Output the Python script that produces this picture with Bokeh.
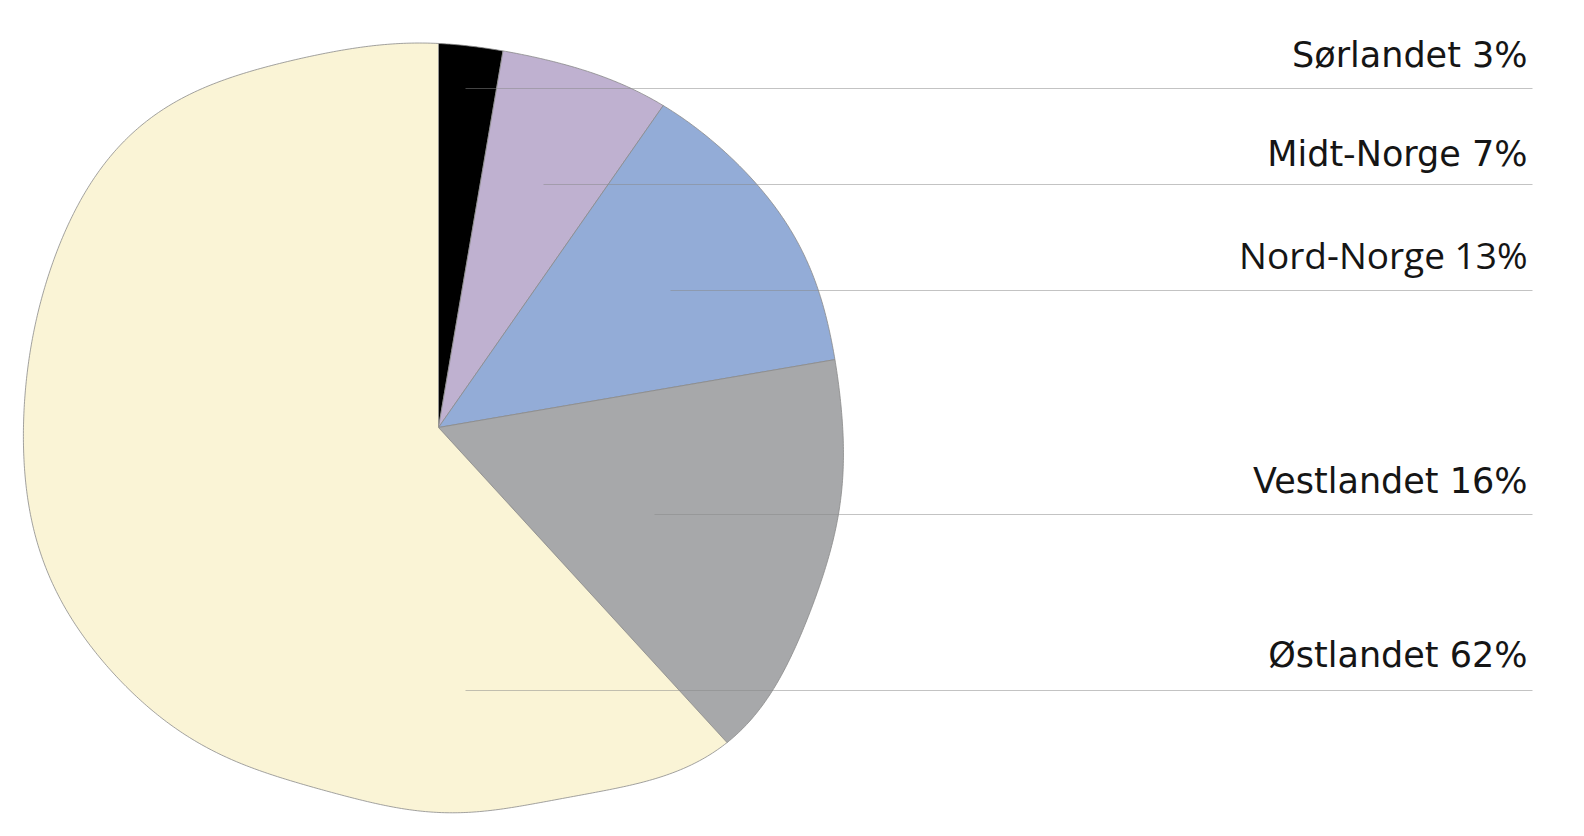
import numpy as np
from bokeh.plotting import figure
from bokeh.models import Range1d, ColumnDataSource
from bokeh.core.properties import value
from bokeh.embed import file_html
from bokeh.resources import INLINE

# ---- data ----
regions = ["Sørlandet", "Midt-Norge", "Nord-Norge", "Vestlandet", "Østlandet"]
shares = [2.7, 7.0, 12.6, 15.9, 61.8]
colors = ["#000000", "#bfb1d0", "#93acd7", "#a7a8aa", "#faf4d6"]

# ---- style: hand-drawn blob outline (angle clockwise from 12 o'clock, radius px) ----
OUTLINE_ANG = [0, 9.8, 20.6, 29.9, 35, 42.8, 52.6, 60.8, 70.1, 80.1, 85.7, 91.4, 98.5,
               107.8, 117.6, 127.8, 137.4, 140.6, 145.8, 150.4, 159.9, 169.7, 179.7,
               185.7, 196, 206.3, 216.8, 222.8, 228.9, 235.4, 243.7, 248.9, 255.7,
               261.7, 268.6, 275.8, 283.5, 292.9, 298, 307.2, 314.2, 317.8, 324.6,
               334.7, 344.4, 354.3]
OUTLINE_R = [384, 382.6, 384.5, 391, 392, 395.5, 401.6, 403.4, 403, 403, 403, 405, 406.5,
             411.8, 416, 424, 428, 424, 418, 409, 392, 387, 386,
             382, 380, 386, 397, 399, 405, 410.5, 413.7, 416, 418,
             417, 415, 414, 416.5, 421, 420, 424.6, 425.7, 424, 411,
             400, 391, 385]
HARMONICS = 10

W, H = 1568, 820
CX, CY = 438, 836 - 427          # pie centre (data units = px from page top)
LEADER_X0 = [465, 543, 670, 654, 465]
LEADER_Y = [836 - v for v in [88, 184, 290, 514, 690]]
LABEL_Y = [836 - v for v in [54, 153, 254, 480, 654]]
LABEL_X = 1527
LEADER_X1 = 1532
LABEL_FONTS = ["DejaVu Sans", "DejaVu Sans", "Open Sans", "DejaVu Sans", "DejaVu Sans"]
LABEL_SIZES = ["35px", "35px", "37px", "35px", "35px"]

# smooth periodic fit of the outline
th = np.radians(OUTLINE_ANG)
def design(t):
    cols = [np.ones_like(t)]
    for k in range(1, HARMONICS + 1):
        cols += [np.cos(k * t), np.sin(k * t)]
    return np.stack(cols, axis=1)
coef, *_ = np.linalg.lstsq(design(th), np.array(OUTLINE_R, float), rcond=None)
def radius(deg):
    return design(np.radians(deg)) @ coef

p = figure(width=W, height=H, x_range=Range1d(0, W), y_range=Range1d(836 - H, 836),
           output_backend="svg", toolbar_location=None, min_border=0)
p.axis.visible = False
p.grid.visible = False
p.outline_line_color = None
p.background_fill_color = "white"
p.border_fill_color = "white"

# slices
cum = np.concatenate([[0], np.cumsum(shares)]) / sum(shares) * 360.0
xs, ys = [], []
for i in range(len(shares)):
    a0, a1 = cum[i], cum[i + 1]
    n = max(2, int((a1 - a0) / 0.4) + 1)
    ang = np.linspace(a0, a1, n)
    r = radius(ang)
    t = np.radians(ang)
    xs.append([CX] + list(CX + r * np.sin(t)))
    ys.append([CY] + list(CY + r * np.cos(t)))

p.patches(xs=xs, ys=ys, fill_color=colors, line_color="#8a8a8a", line_width=0.8)

# leader lines
p.segment(x0=LEADER_X0, y0=LEADER_Y, x1=[LEADER_X1] * 5, y1=LEADER_Y,
          line_color="#888888", line_alpha=0.5, line_width=1)

# labels
labels = [f"{r} {round(s)}%" for r, s in zip(regions, shares)]
src = ColumnDataSource(dict(x=[LABEL_X] * 5, y=LABEL_Y, text=labels,
                            font=LABEL_FONTS, size=LABEL_SIZES))
p.text(x="x", y="y", text="text", source=src, text_font="font",
       text_font_size="size", text_align="right", text_baseline="alphabetic",
       text_color="#151515")

open("out.html", "w").write(file_html(p, INLINE))
